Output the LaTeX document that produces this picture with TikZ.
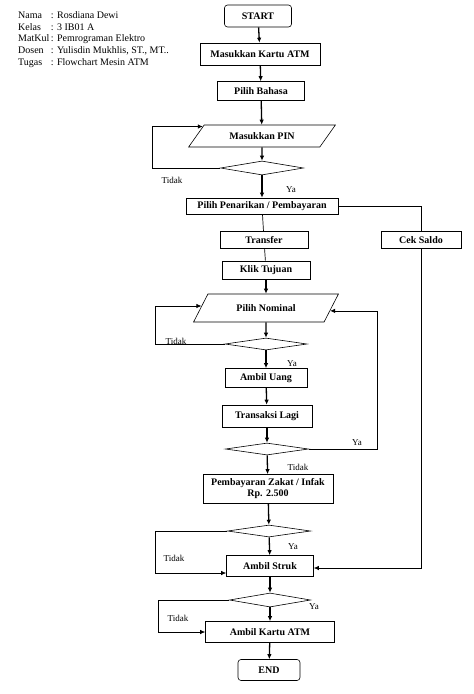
\documentclass[tikz,border=0pt]{standalone}
\usepackage{fontspec}
\setmainfont{Liberation Serif}
\usetikzlibrary{shapes.geometric}
\usetikzlibrary{calc}
\usetikzlibrary{arrows.meta}
\tikzset{
  % plain step of the flow
  process box/.style={draw=black,line width=0.6pt,inner sep=1pt,
    font=\fontsize{10}{11}\selectfont\bfseries,align=center},
  % start and end
  terminal box/.style={process box,rounded corners=3pt},
  % input step, slanted
  io box/.style={draw=black,line width=0.6pt,trapezium,trapezium stretches=true,
    inner sep=1pt,font=\fontsize{10}{11}\selectfont\bfseries},
  % question, left empty
  decision/.style={draw=black,line width=0.6pt,diamond,inner sep=0pt,
    minimum width=83pt,minimum height=13pt},
  % main arrow down the chart
  flow arrow/.style={line width=1.3pt,-{Latex[length=5pt,width=4.5pt]}},
  % thin line back or aside
  loop arrow/.style={line width=0.7pt,-{Latex[length=5pt,width=4.5pt]}},
  thin line/.style={line width=0.7pt},
  answer/.style={font=\fontsize{9}{10}\selectfont,inner sep=0pt},
}

\begin{document}
\begin{tikzpicture}[x=1pt,y=-1pt]
\useasboundingbox (0,0) rectangle (474,694);
\node[anchor=north west,inner sep=0pt,font=\fontsize{10}{11.7}\selectfont] (info) at (18,10)
  {\begin{tabular}{@{}l@{\,}l@{}}
   Nama & : Rosdiana Dewi\\
   Kelas & : 3 IB01 A\\
   MatKul & : Pemrograman Elektro\\
   Dosen & : Yulisdin Mukhlis, ST., MT..\\
   Tugas & : Flowchart Mesin ATM
   \end{tabular}};
\node[terminal box,minimum width=67pt,minimum height=22pt] (start) at (258,16) {START};
\node[process box,minimum width=120pt,minimum height=22pt] (kartu) at (260,54) {Masukkan Kartu ATM};
\node[process box,minimum width=87pt,minimum height=19pt] (bahasa) at (261,91) {Pilih Bahasa};
\node[io box,trapezium left angle=45,trapezium right angle=135,
  minimum width=147pt,minimum height=22pt] (pin) at (262,136) {Masukkan PIN};
\node[decision,minimum height=14pt] (d1) at (262,168) {};
\node[process box,minimum width=152pt,minimum height=16pt] (penarikan) at (262,206) {Pilih Penarikan / Pembayaran};
\node[process box,minimum width=88pt,minimum height=17pt] (transfer) at (264,240) {Transfer};
\node[process box,minimum width=80pt,minimum height=17pt] (ceksaldo) at (421,240) {Cek Saldo};
\node[process box,minimum width=88pt,minimum height=18pt] (klik) at (266,270) {Klik Tujuan};
\node[io box,trapezium left angle=50,trapezium right angle=130,
  minimum width=146pt,minimum height=28pt] (nominal) at (266,308) {Pilih Nominal};
\node[decision,minimum width=82pt,minimum height=12pt] (d2) at (266,344) {};
\node[process box,minimum width=82pt,minimum height=19pt] (uang) at (266,378) {Ambil Uang};
\node[process box,minimum width=90pt,minimum height=22pt] (lagi) at (267,416) {Transaksi Lagi};
\node[decision,minimum height=12pt] (d3) at (267,449) {};
\node[process box,minimum width=130pt,minimum height=29pt] (zakat) at (268,489)
  {Pembayaran Zakat / Infak\\Rp. 2.500};
\node[decision,minimum height=12pt] (d4) at (269,531) {};
\node[process box,minimum width=87pt,minimum height=21pt] (struk) at (270,566) {Ambil Struk};
\node[decision,minimum width=81pt,minimum height=14pt] (d5) at (270,600) {};
\node[process box,minimum width=129pt,minimum height=21pt] (kartuatm) at (270,632) {Ambil Kartu ATM};
\node[terminal box,minimum width=62pt,minimum height=21pt] (end) at (269,670) {END};

\coordinate (pinin) at ($(pin.top left corner)!0.08!(pin.bottom left corner)$);
\coordinate (nomleft) at ($(nominal.top left corner)!0.43!(nominal.bottom left corner)$);
\coordinate (nomright) at ($(nominal.top right corner)!0.6!(nominal.bottom right corner)$);
\coordinate (loop1) at (152,0);
\coordinate (loop2) at (155,0);
\coordinate (loop3) at (377,0);
\coordinate (loop4) at (155,0);
\coordinate (loop5) at (158,0);

\draw[flow arrow] (start) -- (kartu);
\draw[flow arrow] (kartu) -- (bahasa);
\draw[flow arrow] (bahasa) -- (pin);
\draw[flow arrow] (pin) -- (d1);
\draw[flow arrow] (d1) -- (penarikan);
\draw[loop arrow] (d1.west) -- (d1.west -| loop1) |- (pinin);
\draw[thin line] (penarikan) -- (transfer);
\draw[thin line] (penarikan.east) -| (ceksaldo.north);
\draw[thin line] (transfer) -- (klik);
\draw[flow arrow] (klik) -- (nominal);
\draw[flow arrow] (nominal) -- (d2);
\draw[flow arrow] (d2) -- (uang);
\draw[loop arrow] (d2.west) -- (d2.west -| loop2) |- (nomleft);
\draw[flow arrow] (uang) -- (lagi);
\draw[flow arrow] (lagi) -- (d3);
\draw[flow arrow] (d3) -- (zakat);
\draw[loop arrow] (d3.east) -- (d3.east -| loop3) |- (nomright);
\draw[flow arrow] (zakat) -- (d4);
\draw[flow arrow] (d4) -- (struk);
\draw[loop arrow] (d4.west) -- (d4.west -| loop4) |- ($(struk.west)+(0,7)$);
\draw[loop arrow] (ceksaldo.south) |- ($(struk.east)+(0,2)$);
\draw[flow arrow] (struk) -- (d5);
\draw[flow arrow] (d5) -- (kartuatm);
\draw[loop arrow] (d5.west) -- (d5.west -| loop5) |- (kartuatm.west);
\draw[flow arrow] (kartuatm) -- (end);

\node[answer] (tidak1) at (172,180) {Tidak};
\node[answer] (ya1) at (291,190) {Ya};
\node[answer] (tidak2) at (176,341) {Tidak};
\node[answer] (ya2) at (292,364) {Ya};
\node[answer] (ya3) at (357,443) {Ya};
\node[answer] (tidak3) at (298,467) {Tidak};
\node[answer] (ya4) at (293,547) {Ya};
\node[answer] (tidak4) at (174,558) {Tidak};
\node[answer] (ya5) at (314,607) {Ya};
\node[answer] (tidak5) at (178,618) {Tidak};
\end{tikzpicture}
\end{document}
